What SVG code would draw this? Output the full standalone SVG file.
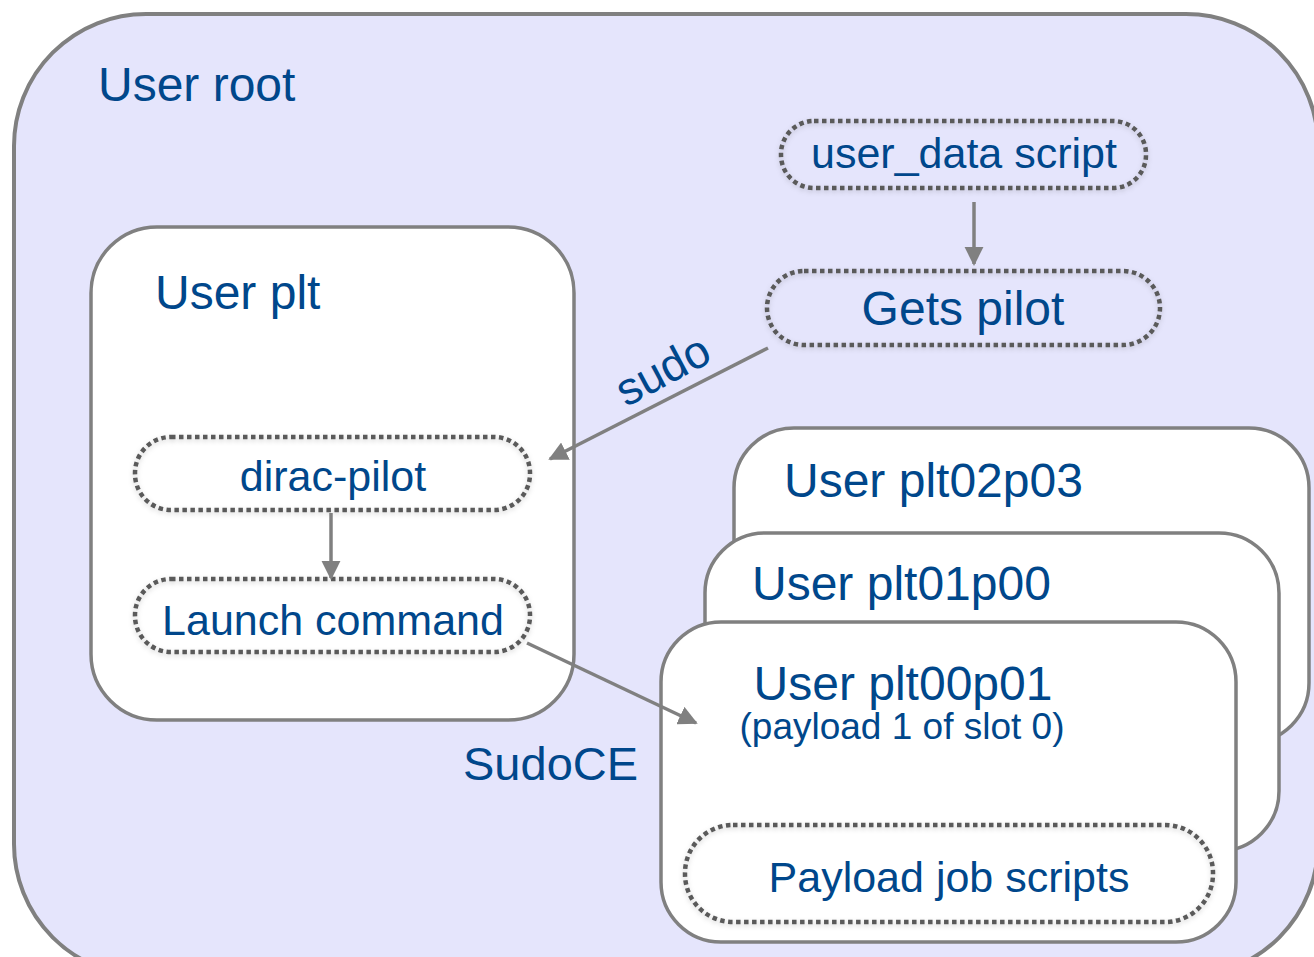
<svg xmlns="http://www.w3.org/2000/svg" width="1314" height="957" viewBox="0 0 1314 957">
<style>
.box{fill:#ffffff;stroke:#808080;stroke-width:3.5}
.dot{fill:none;stroke:#5a5a5a;stroke-width:4.5;stroke-dasharray:4.5 3.5;filter:url(#sh)}
.t{font-family:"Liberation Sans",Arial,sans-serif;fill:#00478b}
.conn{stroke:#808080;stroke-width:3.5;fill:none;marker-end:url(#ah)}
</style>
<defs>
<marker id="ah" viewBox="0 0 10 10" refX="9" refY="5" markerWidth="5.5" markerHeight="5.5" orient="auto" markerUnits="strokeWidth">
<path d="M0,0 L10,5 L0,10 z" fill="#808080"/>
</marker>
<filter id="sh" x="-10%" y="-30%" width="120%" height="160%">
<feDropShadow dx="0" dy="2" stdDeviation="2.5" flood-color="#000" flood-opacity="0.18"/>
</filter>
</defs>
<g id="user-root">
<rect x="14" y="14" width="1304" height="962" rx="132" fill="#e5e5fc" stroke="#808080" stroke-width="4"/>
<text class="t" x="98" y="101" font-size="48">User root</text>
</g>
<g id="user-plt">
<rect class="box" x="91" y="227" width="483" height="493" rx="66"/>
<text class="t" x="155" y="309" font-size="48">User plt</text>
</g>
<g id="dirac-pilot">
<rect class="dot" x="135" y="437" width="395" height="73" rx="36" fill="#ffffff"/>
<text class="t" x="333" y="491" font-size="43" text-anchor="middle">dirac-pilot</text>
</g>
<g id="launch-command">
<rect class="dot" x="135" y="579" width="395" height="73" rx="36"/>
<text class="t" x="333" y="635" font-size="43" text-anchor="middle">Launch command</text>
</g>
<g id="user-data-script">
<rect class="dot" x="781" y="121" width="365" height="67" rx="33"/>
<text class="t" x="964" y="168" font-size="43" text-anchor="middle">user_data script</text>
</g>
<g id="gets-pilot">
<rect class="dot" x="767" y="271" width="393" height="74" rx="37"/>
<text class="t" x="963" y="325" font-size="48" text-anchor="middle">Gets pilot</text>
</g>
<g id="sudoce-label">
<text class="t" x="463" y="780" font-size="47">SudoCE</text>
</g>
<g id="user-plt02p03">
<rect class="box" x="734" y="428" width="575" height="315" rx="60"/>
<text class="t" x="784" y="497" font-size="48">User plt02p03</text>
</g>
<g id="user-plt01p00">
<rect class="box" x="705" y="533" width="574" height="318" rx="60"/>
<text class="t" x="752" y="600" font-size="48">User plt01p00</text>
</g>
<g id="user-plt00p01">
<rect class="box" x="661" y="622" width="575" height="320" rx="60"/>
<text class="t" x="903" y="700" font-size="48" text-anchor="middle">User plt00p01</text>
<text class="t" x="902" y="739" font-size="37" text-anchor="middle">(payload 1 of slot 0)</text>
</g>
<g id="payload-job-scripts">
<rect class="dot" x="685" y="825" width="528" height="97" rx="48"/>
<text class="t" x="949" y="892" font-size="43" text-anchor="middle">Payload job scripts</text>
</g>
<g id="connectors">
<line class="conn" x1="974" y1="202" x2="974" y2="264"/>
<line class="conn" x1="331" y1="513" x2="331" y2="578"/>
<line class="conn" x1="768" y1="348" x2="550" y2="459"/>
<line class="conn" x1="527" y1="643" x2="696" y2="723"/>
<text class="t" font-size="46" text-anchor="middle" transform="translate(670,384) rotate(-28)">sudo</text>
</g>
</svg>
